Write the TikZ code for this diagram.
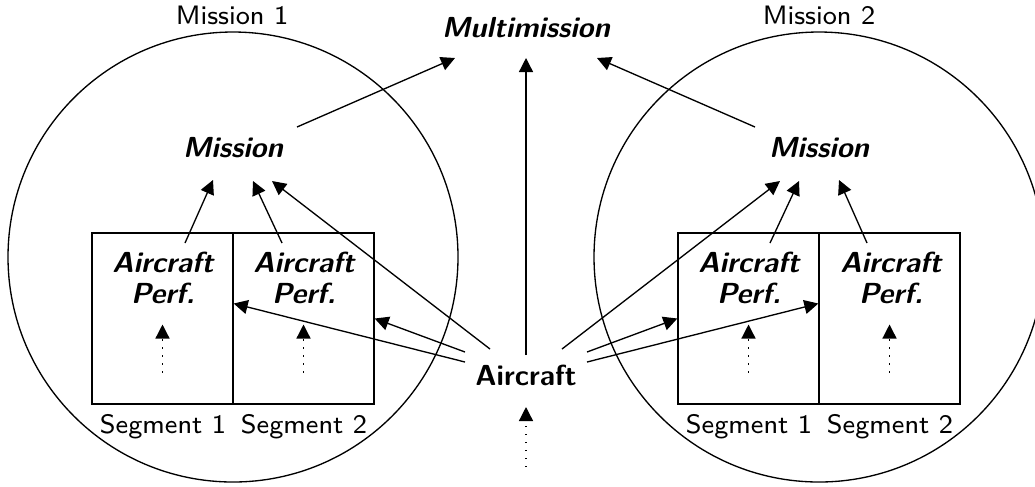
\documentclass[tikz,border=0pt]{standalone}
\usetikzlibrary{arrows.meta,calc}
\tikzset{
  txt/.style={font=\sffamily\fontsize{8}{9.5}\selectfont, inner sep=0},
  bi/.style={font=\sffamily\fontsize{8.7}{9.5}\bfseries\slshape, inner sep=0, align=center},
  semi/.style={font=\sffamily\fontsize{8.7}{9.5}\bfseries, inner sep=0},
  segbox/.style={draw, minimum width=42.3pt, minimum height=51.3pt, inner sep=0},
  ring/.style={draw, circle, minimum size=135pt, inner sep=0},
  arr/.style={-{Triangle[length=4.2pt,width=4.2pt]}},
  dotarr/.style={-{Triangle[length=4.2pt,width=4.2pt]}, dotted},
}
\begin{document}
\begin{tikzpicture}[x=0.3pt,y=-0.3pt]
\useasboundingbox (0,0) rectangle (1035,486);
% circles
\node[ring] (c1) at (233,257) {};
\node[ring] (c2) at (819,257) {};
\node[txt] (t1) at (232,15) {Mission 1};
\node[txt] (t2) at (819,15) {Mission 2};
% top nodes
\node[bi] (multi) at (526,28) {Multimission};
\node[bi] (mis1) at (233,148) {Mission};
\node[bi] (mis2) at (819,148) {Mission};
% segment boxes
\node[segbox] (s11) at (162.5,318.5) {};
\node[segbox] (s12) at (303.5,318.5) {};
\node[segbox] (s21) at (748.5,318.5) {};
\node[segbox] (s22) at (889.5,318.5) {};
\node[bi] (ap11) at (163,278) {Aircraft\\Perf.};
\node[bi] (ap12) at (304,278) {Aircraft\\Perf.};
\node[bi] (ap21) at (749,278) {Aircraft\\Perf.};
\node[bi] (ap22) at (891,278) {Aircraft\\Perf.};
\node[txt] (g11) at (163,427) {Segment 1};
\node[txt] (g12) at (304,427) {Segment 2};
\node[txt] (g21) at (749,427) {Segment 1};
\node[txt] (g22) at (890,427) {Segment 2};
% aircraft
\node[semi] (ac) at (526,375) {Aircraft};
% dotted inputs
\draw[dotarr] ($(s11)+(0,54)$) -- ($(s11)+(0,6)$);
\draw[dotarr] ($(s12)+(0,54)$) -- ($(s12)+(0,6)$);
\draw[dotarr] ($(s21)+(0,54)$) -- ($(s21)+(0,6)$);
\draw[dotarr] ($(s22)+(0,54)$) -- ($(s22)+(0,6)$);
\draw[dotarr] ($(ac)+(0,92)$) -- ($(ac)+(0,32)$);
% missions to multimission
\draw[arr] ($(mis1)+(64,-21)$) -- ($(multi)+(-71,30)$);
\draw[arr] ($(mis2)+(-64,-21)$) -- ($(multi)+(71,30)$);
\draw[arr] ($(ac)+(0,-20)$) -- ($(multi)+(0,30)$);
% perf to mission
\draw[arr] ($(ap11)+(22,-35)$) -- ($(mis1)+(-20,32)$);
\draw[arr] ($(ap12)+(-22,-35)$) -- ($(mis1)+(20,33)$);
\draw[arr] ($(ap21)+(21,-35)$) -- ($(mis2)+(-20,33)$);
\draw[arr] ($(ap22)+(-24,-35)$) -- ($(mis2)+(20,32)$);
% aircraft to missions and segments
\draw[arr] ($(ac)+(-36,-26)$) -- ($(mis1)+(39,33)$);
\draw[arr] ($(ac)+(36,-26)$) -- ($(mis2)+(-39,33)$);
\draw[arr] ($(ac)+(-61,-23)$) -- (s12.east);
\draw[arr] ($(ac)+(-61,-13)$) -- ($(s11.east)+(0,-15)$);
\draw[arr] ($(ac)+(61,-23)$) -- (s21.west);
\draw[arr] ($(ac)+(61,-13)$) -- ($(s22.west)+(0,-15)$);
\end{tikzpicture}
\end{document}
